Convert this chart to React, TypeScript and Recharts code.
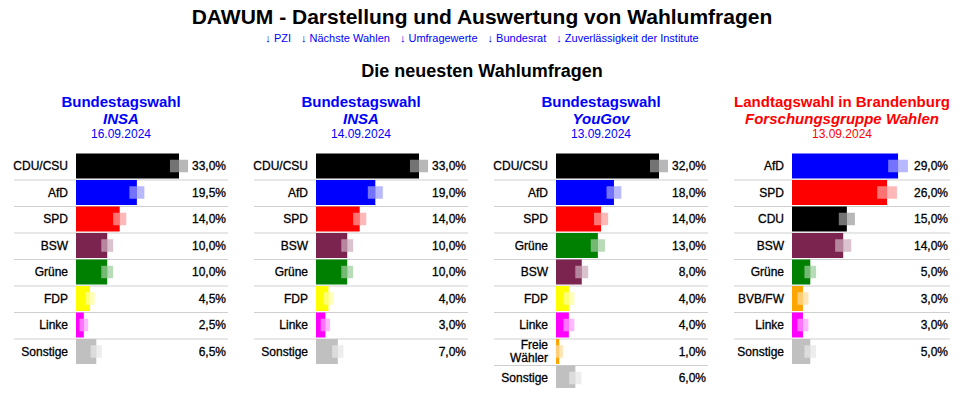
import React from 'react';
import { BarChart, Bar, XAxis, YAxis } from 'recharts';

// Umfragen (Werte in %, Fehlerspanne in Prozentpunkten)
const insa1Parties = ['CDU/CSU', 'AfD', 'SPD', 'BSW', 'Grüne', 'FDP', 'Linke', 'Sonstige'];
const insa1Values = [33, 19.5, 14, 10, 10, 4.5, 2.5, 6.5];
const insa1Margins = [2.9, 2.4, 2.1, 1.9, 1.9, 1.5, 1.4, 1.8];

const insa2Parties = ['CDU/CSU', 'AfD', 'SPD', 'BSW', 'Grüne', 'FDP', 'Linke', 'Sonstige'];
const insa2Values = [33, 19, 14, 10, 10, 4, 3, 7];
const insa2Margins = [2.9, 2.4, 2.1, 1.9, 1.9, 1.6, 1.5, 1.8];

const yougovParties = ['CDU/CSU', 'AfD', 'SPD', 'Grüne', 'BSW', 'FDP', 'Linke', 'Freie Wähler', 'Sonstige'];
const yougovValues = [32, 18, 14, 13, 8, 4, 4, 1, 6];
const yougovMargins = [2.8, 2.3, 2.2, 2.2, 2.0, 1.7, 1.7, 1.2, 1.9];

const fgwParties = ['AfD', 'SPD', 'CDU', 'BSW', 'Grüne', 'BVB/FW', 'Linke', 'Sonstige'];
const fgwValues = [29, 26, 15, 14, 5, 3, 3, 5];
const fgwMargins = [2.7, 2.7, 2.2, 2.2, 1.6, 1.5, 1.5, 1.6];

const partyColors: Record<string, string> = {
  'CDU/CSU': '#000000',
  CDU: '#000000',
  AfD: '#0000ff',
  SPD: '#ff0000',
  BSW: '#7b2450',
  'Grüne': '#008000',
  FDP: '#ffff00',
  Linke: '#ff00ff',
  'Freie Wähler': '#ffa500',
  'BVB/FW': '#ffa500',
  Sonstige: '#c0c0c0',
};

const links = ['PZI', 'Nächste Wahlen', 'Umfragewerte', 'Bundesrat', 'Zuverlässigkeit der Institute'];

const FONT = 'Arial, "Liberation Sans", sans-serif';
const ROW = 26.5;
const PLOT_W = 113;

type Panel = {
  election: string;
  institute: string;
  date: string;
  color: string;
  parties: string[];
  values: number[];
  margins: number[];
  left: number;
  boxLeft: number;
  boxWidth: number;
  plotLeft: number;
  xMax: number;
};

const panels: Panel[] = [
  { election: 'Bundestagswahl', institute: 'INSA', date: '16.09.2024', color: '#0000ff',
    parties: insa1Parties, values: insa1Values, margins: insa1Margins,
    left: 0, boxLeft: 14, boxWidth: 214, plotLeft: 76, xMax: 36.2 },
  { election: 'Bundestagswahl', institute: 'INSA', date: '14.09.2024', color: '#0000ff',
    parties: insa2Parties, values: insa2Values, margins: insa2Margins,
    left: 240, boxLeft: 254, boxWidth: 214, plotLeft: 76, xMax: 36.2 },
  { election: 'Bundestagswahl', institute: 'YouGov', date: '13.09.2024', color: '#0000ff',
    parties: yougovParties, values: yougovValues, margins: yougovMargins,
    left: 480, boxLeft: 494, boxWidth: 214, plotLeft: 76, xMax: 35.1 },
  { election: 'Landtagswahl in Brandenburg', institute: 'Forschungsgruppe Wahlen', date: '13.09.2024', color: '#ff0000',
    parties: fgwParties, values: fgwValues, margins: fgwMargins,
    left: 720, boxLeft: 734, boxWidth: 216, plotLeft: 72, xMax: 30.9 },
];

const fmt = (v: number) => v.toFixed(1).replace('.', ',') + '%';

const PartyTick = (props: any) => {
  const { x, y, payload } = props;
  const lines = String(payload.value).split(' ');
  const start = -((lines.length - 1) * 13) / 2;
  return (
    <text x={x} y={y} textAnchor="end" fontFamily={FONT} fontSize={12} fill="#000" stroke="#000" strokeWidth={0.3}>
      {lines.map((l, i) => (
        <tspan key={i} x={x} dy={i === 0 ? start + 4.3 : 13}>{l}</tspan>
      ))}
    </text>
  );
};

const makeShape = (count: number, sepLeft: number, sepRight: number) => (props: any) => {
  const { x, y, width, height, payload, index } = props;
  const color = partyColors[payload.party];
  const v = payload.value;
  const m = payload.margin;
  const pxPer = width / v;
  const inL = x + (v - m) * pxPer;
  const outR = x + (v + m) * pxPer;
  const oy = y + height / 4;
  const oh = height / 2;
  return (
    <g>
      <rect x={x} y={y} width={width} height={height} fill={color} />
      <rect x={inL} y={oy} width={x + width - inL} height={oh} fill="#ffffff" fillOpacity={0.45} />
      <rect x={x + width} y={oy} width={outR - x - width} height={oh} fill={color} fillOpacity={0.28} />
      <text x={sepRight - 2} y={y + height / 2 + 4.3} textAnchor="end" fontFamily={FONT} fontSize={12}
        fill="#000" stroke="#000" strokeWidth={0.3}>
        {fmt(v)}
      </text>
      {index < count - 1 && (
        <line x1={sepLeft} x2={sepRight} y1={y + height + 1.5} y2={y + height + 1.5} stroke="#cfcfcf" strokeWidth={1} />
      )}
    </g>
  );
};

const PanelChart = ({ p }: { p: Panel }) => {
  const data = p.parties.map((party, i) => ({ party, value: p.values[i], margin: p.margins[i] }));
  const height = data.length * ROW + 1;
  const sepLeft = p.boxLeft - p.left;
  const sepRight = sepLeft + p.boxWidth;
  return (
    <>
      <div style={{ position: 'absolute', left: p.boxLeft, top: 94, width: p.boxWidth, textAlign: 'center',
        fontFamily: FONT, fontSize: 15, lineHeight: '15px', fontWeight: 'bold', color: p.color, whiteSpace: 'nowrap' }}>
        {p.election}
      </div>
      <div style={{ position: 'absolute', left: p.boxLeft, top: 111, width: p.boxWidth, textAlign: 'center',
        fontFamily: FONT, fontSize: 15, lineHeight: '15px', fontWeight: 'bold', fontStyle: 'italic', color: p.color, whiteSpace: 'nowrap' }}>
        {p.institute}
      </div>
      <div style={{ position: 'absolute', left: p.boxLeft, top: 128, width: p.boxWidth, textAlign: 'center',
        fontFamily: FONT, fontSize: 12, lineHeight: '12px', color: p.color }}>
        {p.date}
      </div>
      <div style={{ position: 'absolute', left: p.left, top: 152 }}>
        <BarChart width={240} height={height} data={data} layout="vertical"
          margin={{ top: 0.5, right: 240 - p.plotLeft - PLOT_W, bottom: 0.5, left: 0 }}
          barCategoryGap={1}>
          <XAxis type="number" hide domain={[0, p.xMax]} />
          <YAxis type="category" dataKey="party" width={p.plotLeft} axisLine={false} tickLine={false}
            tickSize={0} tickMargin={8} interval={0} tick={<PartyTick />} />
          <Bar dataKey="value" isAnimationActive={false} shape={makeShape(data.length, sepLeft, sepRight)} />
        </BarChart>
      </div>
    </>
  );
};

export default function App() {
  return (
    <div style={{ position: 'relative', width: 978, height: 396, margin: -8, background: '#fff', overflow: 'hidden' }}>
      <div style={{ position: 'absolute', left: 0, top: 6, width: 964, textAlign: 'center', fontFamily: FONT,
        fontSize: 21, lineHeight: '21px', fontWeight: 'bold', color: '#000' }}>
        DAWUM - Darstellung und Auswertung von Wahlumfragen
      </div>
      <div style={{ position: 'absolute', left: 0, top: 33, width: 964, display: 'flex', justifyContent: 'center',
        gap: 10, fontFamily: FONT, fontSize: 11, lineHeight: '11px', color: '#0000ff' }}>
        {links.map((l) => (
          <span key={l}>↓ {l}</span>
        ))}
      </div>
      <div style={{ position: 'absolute', left: 0, top: 62, width: 964, textAlign: 'center', fontFamily: FONT,
        fontSize: 18, lineHeight: '18px', fontWeight: 'bold', color: '#000' }}>
        Die neuesten Wahlumfragen
      </div>
      {panels.map((p, i) => (
        <PanelChart key={i} p={p} />
      ))}
    </div>
  );
}
